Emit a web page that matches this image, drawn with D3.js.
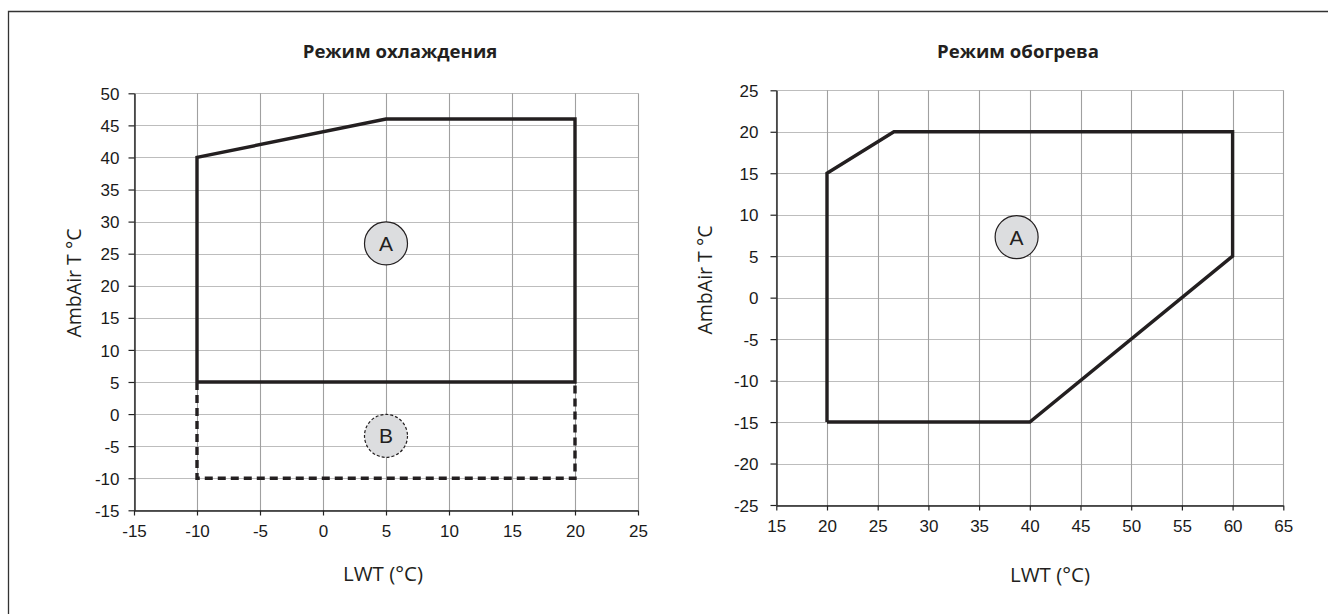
<!DOCTYPE html>
<html><head><meta charset="utf-8">
<script src="https://cdn.jsdelivr.net/npm/d3@7"></script>
<style>body{margin:0;background:#fff}svg{display:block}</style>
</head><body>
<svg id="c" width="1328" height="614"></svg>
<script>
// ---- data ----
const coolTitle = "Режим охлаждения";
const heatTitle = "Режим обогрева";
const xLabel = "LWT (°C)";
const yLabel = "AmbAir T °C";
const coolXTicks = [-15,-10,-5,0,5,10,15,20,25];
const coolYTicks = [-15,-10,-5,0,5,10,15,20,25,30,35,40,45,50];
const heatXTicks = [15,20,25,30,35,40,45,50,55,60,65];
const heatYTicks = [-25,-20,-15,-10,-5,0,5,10,15,20,25];
const coolZoneA = [[-10,5],[-10,40],[5,46],[20,46],[20,5],[-10,5]];
const coolZoneB = [[-10,5],[-10,-10],[20,-10],[20,5]];
const heatZoneA = [[20,-15],[20,15],[26.6,20],[60,20],[60,5],[40,-15],[20,-15]];
const coolMarkers = [{label:"A", x:5, y:26.6, dashed:false},{label:"B", x:5, y:-3.4, dashed:true}];
const heatMarkers = [{label:"A", x:38.7, y:7.3, dashed:false}];

const svg = d3.select("#c");
const ink = "#231f20";

// frame
svg.append("path").attr("d","M8.5,614 L8.5,11.5 L1328,11.5").attr("fill","none").attr("stroke","#333").attr("stroke-width",1.3);

function panel(cfg){
  const x = d3.scaleLinear().domain(d3.extent(cfg.xt)).range(cfg.xr);
  const y = d3.scaleLinear().domain(d3.extent(cfg.yt)).range(cfg.yr);
  const g = svg.append("g");
  // grid
  g.append("g").selectAll("line").data(cfg.yt).join("line")
    .attr("x1",cfg.xr[0]).attr("x2",cfg.xr[1])
    .attr("y1",d=>Math.round(y(d))+0.5).attr("y2",d=>Math.round(y(d))+0.5)
    .attr("stroke","#bdbdbd").attr("stroke-width",1.2);
  g.append("g").selectAll("line").data(cfg.xt).join("line")
    .attr("y1",cfg.yr[0]).attr("y2",cfg.yr[1])
    .attr("x1",d=>Math.round(x(d))+0.5).attr("x2",d=>Math.round(x(d))+0.5)
    .attr("stroke","#a0a0a0").attr("stroke-width",1.1);
  // axes
  const fmt = d => String(d);
  const ax = g.append("g").attr("transform",`translate(0,${Math.round(cfg.yr[0])+0.5})`)
    .call(d3.axisBottom(x).tickValues(cfg.xt).tickFormat(fmt).tickSize(5).tickPadding(9).tickSizeOuter(0));
  const ay = g.append("g").attr("transform",`translate(${Math.round(cfg.xr[0])+0.5},0)`)
    .call(d3.axisLeft(y).tickValues(cfg.yt).tickFormat(fmt).tickSize(6).tickPadding(cfg.yPad).tickSizeOuter(0));
  [ax,ay].forEach(a=>{
    a.select(".domain").attr("stroke","#222").attr("stroke-width",1.4);
    a.selectAll(".tick line").attr("stroke","#222").attr("stroke-width",1.2);
    a.selectAll("text").attr("font-family","Liberation Sans, Arial, sans-serif").attr("font-size",17).attr("fill","#1a1a1a");
  });
  ay.selectAll("text").attr("dy","0.36em");
  const line = d3.line().x(d=>x(d[0])).y(d=>y(d[1]));
  cfg.zones.forEach(z=>{
    g.append("path").attr("d",line(z.pts)).attr("fill","none").attr("stroke",ink)
      .attr("stroke-width",3.4).attr("stroke-linejoin","miter")
      .attr("stroke-dasharray",z.dashed?"8,5":null);
  });
  cfg.markers.forEach(m=>{
    g.append("circle").attr("cx",x(m.x)).attr("cy",y(m.y)).attr("r",21.5)
      .attr("fill","#dcdddf").attr("stroke",ink).attr("stroke-width",1.2)
      .attr("stroke-dasharray",m.dashed?"3,2":null);
    g.append("text").attr("x",x(m.x)).attr("y",y(m.y)).attr("dy","0.36em")
      .attr("text-anchor","middle").attr("font-family","Liberation Sans, Arial, sans-serif")
      .attr("font-size",21).attr("fill",ink).text(m.label);
  });
  // titles
  g.append("text").attr("x",cfg.titleX).attr("y",58).attr("text-anchor","middle")
    .attr("font-family","Open Sans, sans-serif").attr("font-weight",700).attr("font-size",18.6)
    .attr("fill",ink).text(cfg.title);
  g.append("text").attr("x",cfg.xLabX).attr("y",cfg.xLabY).attr("text-anchor","middle")
    .attr("font-family","Open Sans, sans-serif").attr("font-size",20.5)
    .attr("fill",ink).text(xLabel);
  g.append("text").attr("transform",`translate(${cfg.yLabX},${cfg.yLabY}) rotate(-90)`)
    .attr("text-anchor","middle").attr("font-family","Open Sans, sans-serif").attr("font-size",19.5)
    .attr("fill",ink).text(yLabel);
}

panel({xt:coolXTicks, yt:coolYTicks, xr:[134,638], yr:[510.3,93.3], yPad:9,
  zones:[{pts:coolZoneA,dashed:false},{pts:coolZoneB,dashed:true}], markers:coolMarkers,
  title:coolTitle, titleX:400, xLabX:383, xLabY:581, yLabX:81, yLabY:283});
panel({xt:heatXTicks, yt:heatYTicks, xr:[776.3,1283.3], yr:[505,90.3], yPad:12,
  zones:[{pts:heatZoneA,dashed:false}], markers:heatMarkers,
  title:heatTitle, titleX:1018, xLabX:1050, xLabY:582, yLabX:712, yLabY:280});
</script>
</body></html>
